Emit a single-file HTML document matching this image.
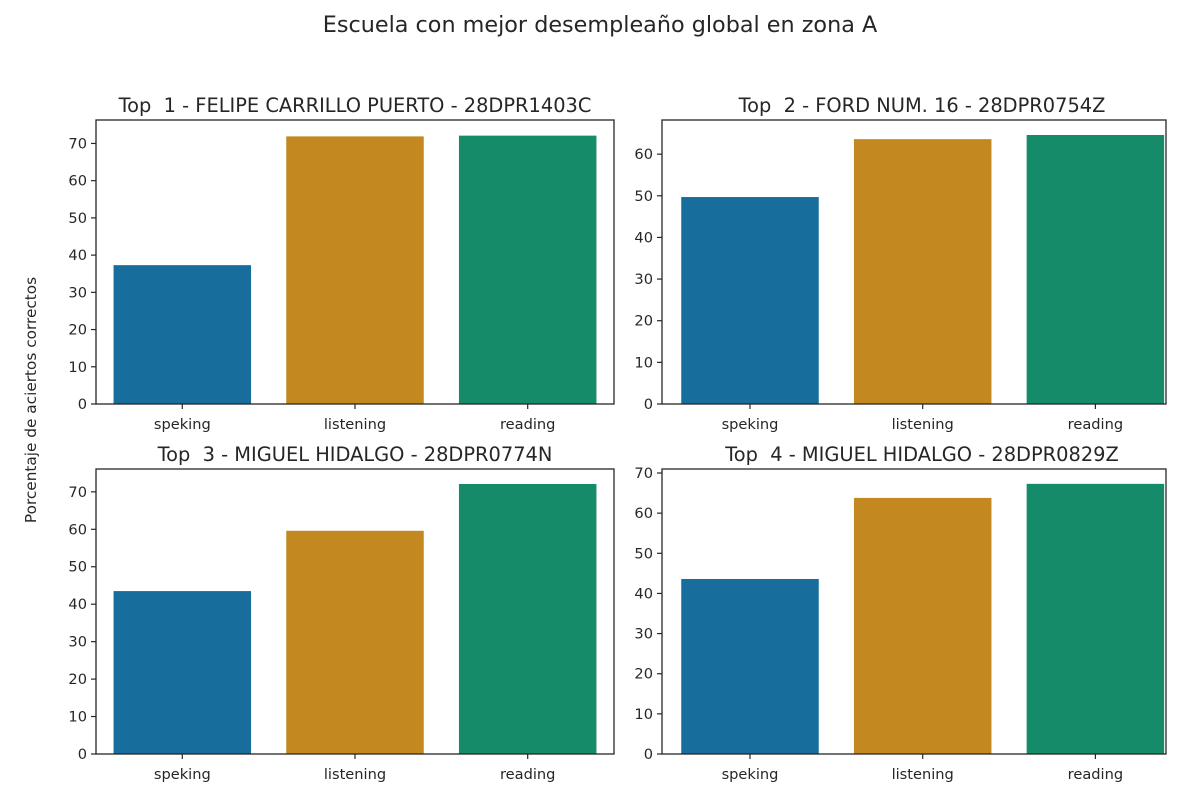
<!DOCTYPE html>
<html><head><meta charset="utf-8"><style>
body{margin:0;background:#fff;font-family:"DejaVu Sans","Liberation Sans",sans-serif;}
text{white-space:pre;}
</style></head><body>
<svg id="chart" width="1200" height="800" xmlns="http://www.w3.org/2000/svg" xml:space="preserve">
<text x="600" y="32" text-anchor="middle" font-size="22.3" fill="#262626" font-family="DejaVu Sans, sans-serif">Escuela con mejor desempleaño global en zona A</text>
<text transform="translate(36,400) rotate(-90)" text-anchor="middle" font-size="15.3" fill="#262626" font-family="DejaVu Sans, sans-serif">Porcentaje de aciertos correctos</text>
</svg>
<script>
const categories=["speking","listening","reading"];
const titles=["Top  1 - FELIPE CARRILLO PUERTO - 28DPR1403C","Top  2 - FORD NUM. 16 - 28DPR0754Z","Top  3 - MIGUEL HIDALGO - 28DPR0774N","Top  4 - MIGUEL HIDALGO - 28DPR0829Z"];
const values1=[37.3,71.9,72.1];
const values2=[49.7,63.6,64.6];
const values3=[43.5,59.6,72.1];
const values4=[43.6,63.8,67.3];
const yMax=[76.3,68.2,76.1,71];
const ticks1=[0,10,20,30,40,50,60,70];
const ticks2=[0,10,20,30,40,50,60];
const ticks3=[0,10,20,30,40,50,60,70];
const ticks4=[0,10,20,30,40,50,60,70];
const colors=["#176d9c","#c38820","#168b6a"];
const NS="http://www.w3.org/2000/svg";
const svg=document.getElementById("chart");
function mk(tag,attrs,parent){const e=document.createElementNS(NS,tag);for(const k in attrs)e.setAttribute(k,attrs[k]);(parent||svg).appendChild(e);return e;}
const boxes=[[96,120,614,404],[662,120,1166,404],[96,469,614,754],[662,469,1166,754]];
const allVals=[values1,values2,values3,values4];
const allTicks=[ticks1,ticks2,ticks3,ticks4];
const FF="DejaVu Sans, sans-serif";
boxes.forEach((b,i)=>{
  const [x0,y0,x1,y1]=b;
  const g=mk("g",{});
  
  
  const yS=v=>y1-(v/yMax[i])*(y1-y0);
  const step=172.7, bw=137.5;
  const xS=j=>x0+(i%2===0?86.3:88)+step*j;
  allVals[i].forEach((v,j)=>{
    const r=mk("rect",{x:xS(j)-bw/2,y:yS(v),width:bw,height:y1-yS(v),fill:colors[j]},g);
    
    
  });
  allTicks[i].forEach(t=>{
    const y=yS(t);
    mk("line",{x1:x0-5,x2:x0,y1:y,y2:y,stroke:"#262626","stroke-width":1.2},g);
    const tx=mk("text",{x:x0-9,y:y+5,"text-anchor":"end","font-size":14.6,fill:"#262626","font-family":FF},g);
    tx.textContent=t;
    
    
  });
  categories.forEach((c,j)=>{
    mk("line",{x1:xS(j),x2:xS(j),y1:y1,y2:y1+5,stroke:"#262626","stroke-width":1.2},g);
    const tx=mk("text",{x:xS(j),y:y1+25,"text-anchor":"middle","font-size":14.6,fill:"#262626","font-family":FF},g);
    tx.textContent=c;
    
    
  });
  mk("rect",{x:x0,y:y0,width:x1-x0,height:y1-y0,fill:"none",stroke:"#262626","stroke-width":1.3},g);
  const t=mk("text",{x:(x0+x1)/2+(i%2===0?0:8),y:y0-8,"text-anchor":"middle","font-size":19.4,fill:"#262626","font-family":FF},g);
  t.textContent=titles[i];
  
  
});
</script>
</body></html>
